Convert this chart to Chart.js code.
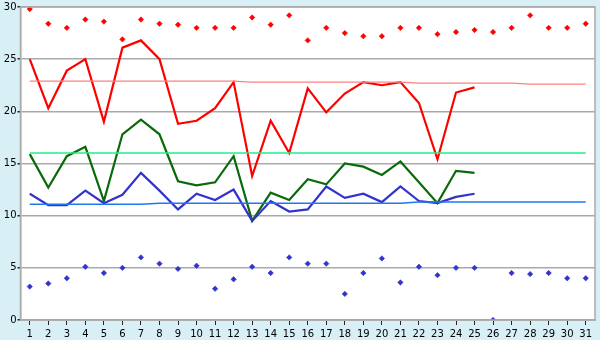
<!DOCTYPE html>
<html>
<head>
<meta charset="utf-8">
<script src="https://cdn.jsdelivr.net/npm/chart.js@4/dist/chart.umd.min.js"></script>
<style>
  html, body { margin: 0; padding: 0; background: #d9eff6; }
  #wrap { width: 600px; height: 340px; }
</style>
</head>
<body>
<div id="wrap"><canvas id="c" width="600" height="340"></canvas></div>
<script>
// Days of the month
const days = ['1','2','3','4','5','6','7','8','9','10','11','12','13','14','15','16','17','18','19','20','21','22','23','24','25','26','27','28','29','30','31'];

// Record highs (red diamonds)
const recordHigh = [29.8,28.4,28.0,28.8,28.6,26.9,28.8,28.4,28.3,28.0,28.0,28.0,29.0,28.3,29.2,26.8,28.0,27.5,27.2,27.2,28.0,28.0,27.4,27.6,27.8,27.6,28.0,29.2,28.0,28.0,28.4];

// Record lows (blue diamonds)
const recordLow = [3.2,3.5,4.0,5.1,4.5,5.0,6.0,5.4,4.9,5.2,3.0,3.9,5.1,4.5,6.0,5.4,5.4,2.5,4.5,5.9,3.6,5.1,4.3,5.0,5.0,0.0,4.5,4.4,4.5,4.0,4.0];

// Daily maximum, mean and minimum (days 1-25)
const dailyMax  = [25.0,20.3,23.9,25.0,19.0,26.1,26.8,25.0,18.8,19.1,20.3,22.8,13.8,19.1,16.0,22.2,19.9,21.7,22.8,22.5,22.8,20.8,15.4,21.8,22.3];
const dailyMean = [15.9,12.7,15.7,16.6,11.4,17.8,19.2,17.8,13.3,12.9,13.2,15.7,9.5,12.2,11.5,13.5,13.0,15.0,14.7,13.9,15.2,13.2,11.2,14.3,14.1];
const dailyMin  = [12.1,11.0,11.0,12.4,11.2,12.0,14.1,12.4,10.6,12.1,11.5,12.5,9.5,11.4,10.4,10.6,12.8,11.7,12.1,11.3,12.8,11.4,11.2,11.8,12.1];

// Long-term normals
const normalMax  = [22.9,22.9,22.9,22.9,22.9,22.9,22.9,22.9,22.9,22.9,22.9,22.9,22.8,22.8,22.8,22.8,22.8,22.8,22.8,22.8,22.8,22.7,22.7,22.7,22.7,22.7,22.7,22.6,22.6,22.6,22.6];
const normalMean = [16.0,16.0,16.0,16.0,16.0,16.0,16.0,16.0,16.0,16.0,16.0,16.0,16.0,16.0,16.0,16.0,16.0,16.0,16.0,16.0,16.0,16.0,16.0,16.0,16.0,16.0,16.0,16.0,16.0,16.0,16.0];
const normalMin  = [11.1,11.1,11.1,11.1,11.1,11.1,11.1,11.2,11.2,11.2,11.2,11.2,11.2,11.2,11.2,11.2,11.2,11.2,11.2,11.2,11.2,11.3,11.3,11.3,11.3,11.3,11.3,11.3,11.3,11.3,11.3];

const yTicks = [0,5,10,15,20,25,30];

const FONT = { family: 'DejaVu Sans', size: 10 };

// Light-blue page, white plot area with a grey frame
const frame = {
  id: 'frame',
  beforeDraw(chart) {
    const { ctx, chartArea: a } = chart;
    ctx.save();
    ctx.fillStyle = '#d9eff6';
    ctx.fillRect(0, 0, chart.width, chart.height);
    ctx.fillStyle = '#ffffff';
    ctx.fillRect(a.left, a.top, a.right - a.left, a.bottom - a.top);
    ctx.restore();
  },
  afterDatasetsDraw(chart) {
    const { ctx, chartArea: a } = chart;
    ctx.save();
    ctx.strokeStyle = '#aaaaaa';
    ctx.lineWidth = 1.5;
    ctx.strokeRect(a.left, a.top, a.right - a.left, a.bottom - a.top);
    ctx.restore();
  }
};

const lineDs = (data, color, width) => ({
  data, borderColor: color, backgroundColor: color, borderWidth: width,
  pointRadius: 0, tension: 0, fill: false
});
const dotDs = (data, color) => ({
  data, showLine: false, pointStyle: 'rectRot', pointRadius: 2.7,
  pointBackgroundColor: color, pointBorderColor: color, pointBorderWidth: 0.6
});

new Chart(document.getElementById('c'), {
  type: 'line',
  data: {
    labels: days,
    datasets: [
      lineDs(normalMax, '#ff8080', 1.2),
      lineDs(normalMean, '#22ee88', 1.5),
      lineDs(normalMin, '#1e78ee', 1.5),
      lineDs(dailyMin, '#3333cc', 2.2),
      lineDs(dailyMean, '#0a6a0a', 2.2),
      lineDs(dailyMax, '#ff0000', 2.2),
      dotDs(recordHigh, '#ff0000'),
      dotDs(recordLow, '#3333cc')
    ]
  },
  options: {
    responsive: false,
    animation: false,
    events: [],
    layout: { padding: { top: 5, right: 5, left: 0, bottom: 0 } },
    plugins: { legend: { display: false }, tooltip: { enabled: false } },
    scales: {
      x: {
        type: 'category',
        offset: true,
        grid: { drawOnChartArea: false, drawTicks: true, tickLength: 5, color: '#222', lineWidth: 1 },
        border: { display: true, color: '#aaaaaa', width: 1.5 },
        ticks: { color: '#000', font: FONT, padding: 3, maxRotation: 0, autoSkip: false },
        afterFit(s) { s.height = 20; }
      },
      y: {
        min: 0, max: 30,
        afterBuildTicks(s) { s.ticks = yTicks.map(v => ({ value: v })); },
        grid: { color: '#aaaaaa', lineWidth: 1.5, drawTicks: true, tickLength: 3, tickColor: '#222' },
        border: { display: true, color: '#aaaaaa', width: 1.5 },
        ticks: { color: '#000', font: FONT, padding: 1 },
        afterFit(s) { s.width = 20.5; }
      }
    }
  },
  plugins: [frame]
});
</script>
</body>
</html>
